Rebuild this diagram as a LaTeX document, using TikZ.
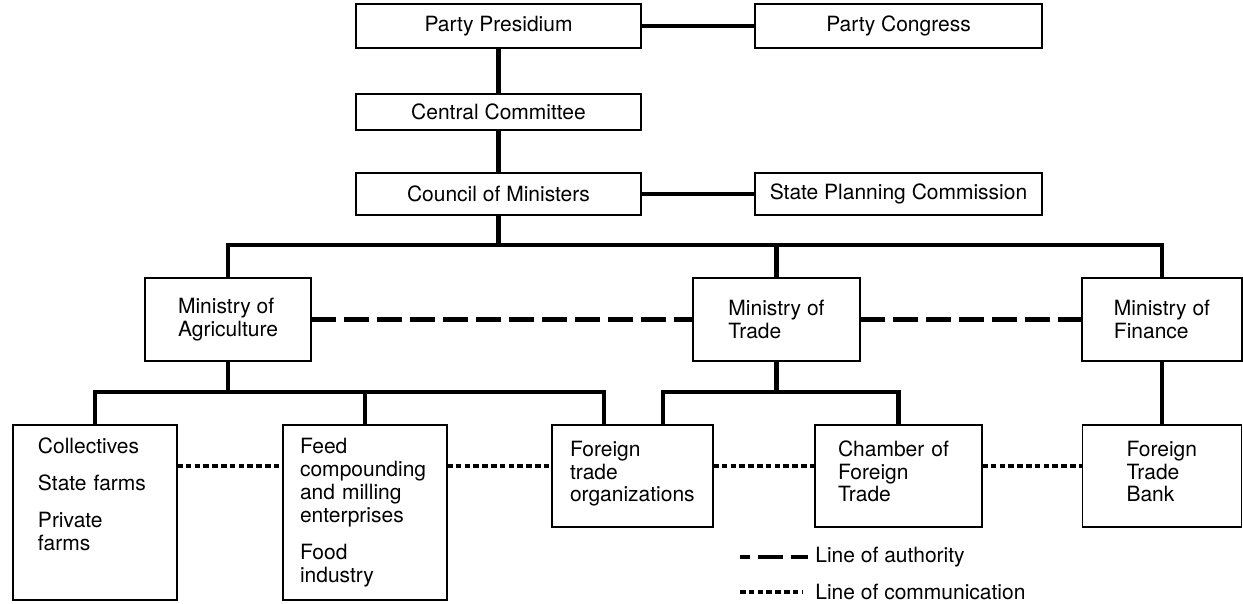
\documentclass[tikz,border=0pt]{standalone}
\usepackage{fontspec}
\setmainfont{TeX Gyre Heros}
\usetikzlibrary{positioning}
\newcommand{\chartfont}{\fontsize{10.5pt}{11.5pt}\selectfont}

\begin{document}
\begin{tikzpicture}[
    box/.style={rectangle, draw, line width=0.8pt, inner sep=0pt, outer sep=0pt, align=left, font=\chartfont},
    top/.style={box, minimum width=142.5pt},
    ministry/.style={box, minimum height=41.5pt},
    unit/.style={box, text height=15.5pt, text depth=35.5pt},
    tallunit/.style={box, text height=14pt, text depth=73.5pt},
    key/.style={inner sep=0pt, font=\chartfont},
    link/.style={line width=2.3pt},
    authority/.style={line width=2.3pt, dash pattern=on 12.5pt off 4pt},
    comm/.style={line width=2.3pt, dash pattern=on 2.8pt off 1.6pt}
]
\useasboundingbox (0,0) rectangle (621.5pt,-302pt);

% Party and state
\node[top, minimum height=22pt] (presidium) at (249.25pt,-13pt) {Party Presidium};
\node[top, minimum height=22pt, minimum width=143.5pt, right=57pt of presidium] (congress) {Party Congress};
\node[top, minimum height=18pt, below=23pt of presidium] (central) {Central Committee};
\node[top, minimum height=21pt, below=21.5pt of central] (council) {Council of Ministers};
\node[top, minimum height=21pt, minimum width=143.5pt, right=57pt of council] (planning) {State Planning Commission};

% Ministries
\node[ministry, minimum width=83pt, below=31.5pt of council, xshift=-135.25pt] (agri) {Ministry of\\Agriculture};
\node[ministry, minimum width=83.5pt, right=191pt of agri] (trade) {Ministry of\\Trade};
\node[ministry, minimum width=80pt, right=111pt of trade] (finance) {Ministry of\\Finance};

% Enterprises and agencies
\node[tallunit, inner xsep=12.5pt, text width=57pt, below=32pt of agri, xshift=-66.5pt] (farms) {Collectives\\[7pt]State farms\\[7pt]Private\\farms};
\node[tallunit, inner xsep=8.5pt, text width=65pt, right=53pt of farms] (feed) {Feed\\compounding\\and milling\\enterprises\\[7pt]Food\\industry};
\node[unit, inner xsep=9pt, text width=62.5pt, below=32pt of trade, xshift=-72pt] (fto) {Foreign\\trade\\organizations};
\node[unit, inner xsep=11.5pt, text width=60.5pt, right=51pt of fto] (chamber) {Chamber of\\Foreign\\Trade};
\node[unit, inner xsep=22pt, text width=35.5pt, below=32pt of finance] (bank) {Foreign\\Trade\\Bank};

% Helper points
\coordinate (busA) at ([yshift=-15pt]council.south);
\coordinate (busB) at ([yshift=-15.5pt]agri.south);
\coordinate (ftoleft) at ([xshift=-14.25pt]fto.north);
\coordinate (ftoright) at ([xshift=15.25pt]fto.north);
\coordinate (talk) at ([yshift=5pt]fto.center);

% Authority tree
\draw[link] (presidium) -- (congress);
\draw[link] (presidium) -- (central);
\draw[link] (central) -- (council);
\draw[link] (council) -- (planning);
\draw[link] (council) -- (council |- busA);
\draw[link] (agri.north) |- (busA -| finance) -- (finance.north);
\draw[link] (trade) -- (trade |- busA);
\draw[link] (agri) -- (agri |- busB);
\draw[link] (farms.north) |- (busB -| ftoleft) -- (ftoleft);
\draw[link] (feed) -- (feed |- busB);
\draw[link] (trade) -- (trade |- busB);
\draw[link] (ftoright) |- (busB -| chamber) -- (chamber.north);
\draw[link] (finance) -- (bank);

% Lines of authority
\draw[authority] (agri) -- (trade);
\draw[authority] (trade) -- (finance);

% Lines of communication
\draw[comm] (farms.east |- talk) -- (feed.west |- talk);
\draw[comm] (feed.east |- talk) -- (fto.west |- talk);
\draw[comm] (fto.east |- talk) -- (chamber.west |- talk);
\draw[comm] (chamber.east |- talk) -- (bank.west |- talk);

% Legend
\node[key, anchor=west] (authkey) at ([yshift=-15pt]chamber.south west) {Line of authority};
\node[key, anchor=west] (commkey) at ([yshift=-17.5pt]authkey.west) {Line of communication};
\coordinate (authfrom) at ([xshift=-37.5pt]authkey.west);
\coordinate (commfrom) at ([xshift=-37.5pt]commkey.west);
\draw[authority, dash phase=7.5pt, shorten >=3.5pt] (authfrom) -- (authkey.west);
\draw[comm, shorten >=6.5pt] (commfrom) -- (commkey.west);

\end{tikzpicture}
\end{document}
